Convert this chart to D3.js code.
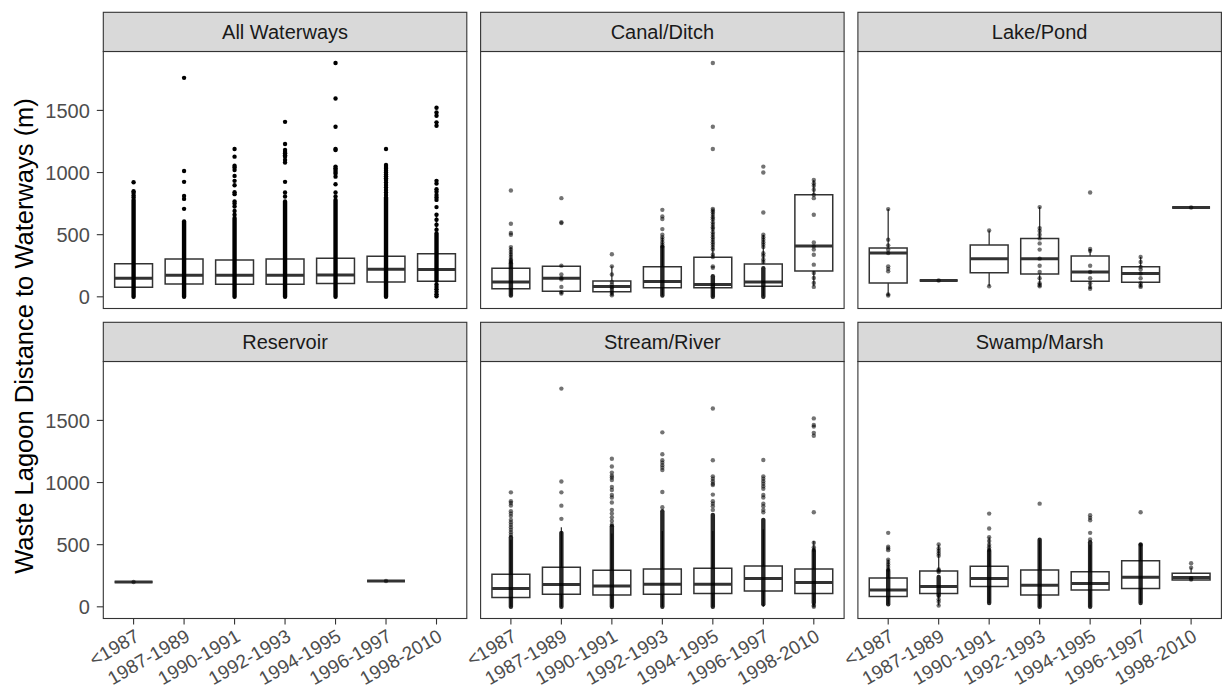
<!DOCTYPE html>
<html><head><meta charset="utf-8">
<script src="https://cdn.jsdelivr.net/npm/d3@7/dist/d3.min.js"></script>
<style>html,body{margin:0;padding:0;background:#fff;}svg{display:block;font-family:"Liberation Sans",Arial,sans-serif;}</style>
</head><body><svg id="c" width="1222" height="693"></svg>
<script>
// ---------------- data ----------------
const categories = ["<1987","1987-1989","1990-1991","1992-1993","1994-1995","1996-1997","1998-2010"];
const panelNames = ["All Waterways","Canal/Ditch","Lake/Pond","Reservoir","Stream/River","Swamp/Marsh"];
const yTicks = [0, 500, 1000, 1500];
const yTitle = "Waste Lagoon Distance to Waterways (m)";

// All Waterways
const allQ1  = [77, 104, 101, 101, 107, 120, 125];
const allMed = [149, 173, 173, 173, 176, 221, 219];
const allQ3  = [267, 305, 297, 305, 310, 326, 347];
const allLo  = [0, 0, 0, 0, 0, 0, 0];
const allHi  = [550, 605, 590, 610, 610, 630, 660];
const allDense = [[[0,780]],[[0,607]],[[0,634]],[[0,767]],[[0,780]],[[0,800]],[[130,510]]];
const allPts = [
  [922, 850, 835, 815, 800],
  [1762, 1013, 925, 812, 788, 708],
  [1190, 1128, 1055, 1040, 1021, 973, 933, 898, 842, 826, 767, 750, 727, 690, 660],
  [1408, 1230, 1182, 1165, 1155, 1140, 1128, 1101, 1080, 925, 839, 807],
  [1882, 1596, 1368, 1190, 1181, 1048, 1035, 1020, 1005, 990, 967, 906, 839, 807],
  [1190, 1061, 1045, 1030, 1015, 1000, 985, 970, 955, 941, 920, 900, 880, 860, 840, 820],
  [1521, 1484, 1457, 1404, 1377, 933, 911, 866, 845, 820, 800, 780, 722, 660, 620, 580, 540, 100, 80, 60, 40, 20, 5]
];

// Canal/Ditch
const canQ1  = [64, 45, 40, 72, 72, 85, 208];
const canMed = [120, 149, 83, 123, 99, 120, 409];
const canQ3  = [230, 246, 128, 241, 318, 264, 821];
const canLo  = [10, 26, 13, 10, 0, 5, 85];
const canHi  = [400, 251, 245, 480, 700, 500, 941];
const canDense = [[[10,270]],[],[],[[10,400]],[[0,165]],[[0,230]],[]];
const canPts = [
  [855, 588, 513, 500, 400, 380, 360, 340, 320, 300, 290, 280],
  [794, 600, 593, 251, 179, 152, 140, 80, 37, 26],
  [342, 245, 180, 120, 100, 80, 70, 55, 40, 25, 13],
  [700, 647, 626, 545, 500, 480, 460, 440, 420, 406],
  [1882, 1368, 1190, 708, 695, 680, 660, 640, 625, 600, 580, 560, 545, 520, 500, 480, 460, 440, 420, 400, 380, 340, 320, 245, 233],
  [1048, 1000, 679, 500, 480, 460, 440, 420, 400, 350, 330, 300, 280],
  [941, 914, 893, 861, 821, 794, 660, 438, 406, 380, 339, 259, 192, 152, 112, 80]
];

// Lake/Pond
const lakQ1  = [112, 131, 193, 184, 125, 117, 719];
const lakMed = [353, 131, 307, 307, 200, 187, 719];
const lakQ3  = [393, 131, 417, 470, 329, 241, 719];
const lakLo  = [10, 131, 85, 85, 64, 80, 719];
const lakHi  = [706, 131, 534, 722, 385, 321, 719];
const lakDense = [[],[],[],[],[],[],[]];
const lakPts = [
  [706, 460, 414, 380, 353, 245, 225, 205, 20, 10],
  [131],
  [534, 85],
  [722, 553, 530, 500, 470, 430, 380, 307, 250, 200, 150, 110, 95, 85],
  [839, 385, 370, 250, 200, 150, 110, 80, 64],
  [321, 280, 241, 220, 187, 150, 110, 90, 80],
  [719]
];

// Reservoir
const resQ1  = [200, null, null, null, null, 208, null];
const resMed = [200, null, null, null, null, 208, null];
const resQ3  = [200, null, null, null, null, 208, null];
const resLo  = [200, null, null, null, null, 208, null];
const resHi  = [200, null, null, null, null, 208, null];
const resDense = [[],[],[],[],[],[],[]];
const resPts = [[200],[],[],[],[],[208],[]];

// Stream/River
const strQ1  = [75, 102, 96, 102, 107, 128, 107];
const strMed = [147, 179, 168, 182, 182, 227, 195];
const strQ3  = [262, 318, 294, 305, 310, 328, 304];
const strLo  = [0, 0, 0, 0, 0, 0, 0];
const strHi  = [540, 640, 590, 610, 610, 625, 530];
const strDense = [[[0,560]],[[0,595]],[[0,649]],[[0,769]],[[0,740]],[[20,700]],[[30,450]]];
const strPts = [
  [921, 850, 835, 815, 770, 750, 730, 700, 680, 660, 640, 620, 600, 580],
  [1756, 1009, 921, 814, 708],
  [1191, 1129, 1080, 1055, 1040, 1020, 965, 940, 900, 880, 840, 780, 750, 720, 690, 660],
  [1404, 1228, 1180, 1160, 1140, 1120, 1100, 924, 801],
  [1596, 1179, 1050, 1030, 1010, 990, 980, 903, 850, 830, 810, 780],
  [1182, 1050, 1030, 1010, 990, 970, 950, 900, 880, 830, 810, 780, 760],
  [1516, 1463, 1450, 1400, 1377, 761, 515, 480, 460, 10, 0]
];

// Swamp/Marsh
const swaQ1  = [83, 107, 163, 96, 136, 147, 216];
const swaMed = [136, 163, 227, 174, 187, 238, 235];
const swaQ3  = [232, 288, 326, 296, 283, 371, 270];
const swaLo  = [20, 10, 30, 0, 0, 30, 216];
const swaHi  = [380, 500, 560, 540, 500, 502, 315];
const swaDense = [[[20,290]],[[90,240]],[[30,450]],[[0,540]],[[0,520]],[[30,500]],[]];
const swaPts = [
  [595, 483, 470, 456, 380, 360, 340, 320, 300],
  [502, 470, 450, 430, 410, 300, 290, 280, 60, 40, 10],
  [750, 630, 560, 530, 500, 480, 460],
  [830],
  [737, 716, 697, 595, 542],
  [761, 502],
  [350, 315, 230, 220]
];

// ---------------- layout ----------------
const panelData = [
  {q1:allQ1,med:allMed,q3:allQ3,lo:allLo,hi:allHi,dense:allDense,pts:allPts,alpha:1},
  {q1:canQ1,med:canMed,q3:canQ3,lo:canLo,hi:canHi,dense:canDense,pts:canPts,alpha:0.55},
  {q1:lakQ1,med:lakMed,q3:lakQ3,lo:lakLo,hi:lakHi,dense:lakDense,pts:lakPts,alpha:0.55},
  {q1:resQ1,med:resMed,q3:resQ3,lo:resLo,hi:resHi,dense:resDense,pts:resPts,alpha:0.55},
  {q1:strQ1,med:strMed,q3:strQ3,lo:strLo,hi:strHi,dense:strDense,pts:strPts,alpha:0.55},
  {q1:swaQ1,med:swaMed,q3:swaQ3,lo:swaLo,hi:swaHi,dense:swaDense,pts:swaPts,alpha:0.55}
];
const colLeft = [103.3, 480.6, 857.9];
const panelW = 363.5;
const stripTop = [12.3, 322.3];
const stripH = 39.2;
const panelH = 257;
const border = "#333333";

const svg = d3.select("#c");

panelNames.forEach((name, pi) => {
  const col = pi % 3, row = Math.floor(pi / 3);
  const x0 = colLeft[col], st = stripTop[row], pt = st + stripH, pb = pt + panelH;
  const x = d3.scalePoint().domain(categories).range([x0, x0 + panelW]).padding(0.6);
  const y = d3.scaleLinear().domain([-94, 1974]).range([pb, pt]);
  const bw = x.step() * 0.75;
  const d = panelData[pi];
  const g = svg.append("g");

  g.append("rect").attr("x", x0).attr("y", pt).attr("width", panelW).attr("height", panelH)
    .attr("fill", "#fff");

  categories.forEach((c, i) => {
    if (d.med[i] == null) return;
    const cx = x(c);
    g.append("line").attr("x1", cx).attr("x2", cx).attr("y1", y(d.q3[i])).attr("y2", y(d.hi[i]))
      .attr("stroke", border).attr("stroke-width", 1.3);
    g.append("line").attr("x1", cx).attr("x2", cx).attr("y1", y(d.q1[i])).attr("y2", y(d.lo[i]))
      .attr("stroke", border).attr("stroke-width", 1.3);
    const yT = y(d.q3[i]), yB = y(d.q1[i]);
    g.append("path").attr("d", `M${cx - bw/2},${yT}H${cx + bw/2}V${yB}H${cx - bw/2}Z`)
      .attr("fill", "#fff").attr("stroke", border).attr("stroke-width", 1.5);
    g.append("line").attr("x1", cx - bw/2).attr("x2", cx + bw/2)
      .attr("y1", y(d.med[i])).attr("y2", y(d.med[i]))
      .attr("stroke", border).attr("stroke-width", 3);
  });

  categories.forEach((c, i) => {
    const cx = x(c);
    d.dense[i].forEach(r => {
      g.append("line").attr("x1", cx).attr("x2", cx).attr("y1", y(r[0])).attr("y2", y(r[1]))
        .attr("stroke", "#000").attr("stroke-width", 4.4).attr("stroke-linecap", "round")
        .attr("stroke-opacity", d.alpha < 1 ? 0.85 : 1);
    });
    g.selectAll(null).data(d.pts[i]).enter().append("circle")
      .attr("cx", cx).attr("cy", v => y(v)).attr("r", 2.2)
      .attr("fill", "#000").attr("fill-opacity", d.alpha);
  });

  g.append("rect").attr("x", x0).attr("y", pt).attr("width", panelW).attr("height", panelH)
    .attr("fill", "none").attr("stroke", border).attr("stroke-width", 1.1);

  g.append("rect").attr("x", x0).attr("y", st).attr("width", panelW).attr("height", stripH)
    .attr("fill", "#d9d9d9").attr("stroke", border).attr("stroke-width", 1.1);
  g.append("text").attr("x", x0 + panelW / 2).attr("y", st + stripH / 2).attr("dy", "0.36em")
    .attr("text-anchor", "middle").attr("font-size", 20).attr("fill", "#1a1a1a").text(name);

  if (col === 0) {
    yTicks.forEach(t => {
      g.append("line").attr("x1", x0 - 6.5).attr("x2", x0).attr("y1", y(t)).attr("y2", y(t))
        .attr("stroke", border).attr("stroke-width", 1.1);
      g.append("text").attr("x", x0 - 13.5).attr("y", y(t)).attr("dy", "0.36em")
        .attr("text-anchor", "end").attr("font-size", 20).attr("fill", "#4d4d4d").text(t);
    });
  }
  if (row === 1) {
    categories.forEach(c => {
      g.append("line").attr("x1", x(c)).attr("x2", x(c)).attr("y1", pb).attr("y2", pb + 6)
        .attr("stroke", border).attr("stroke-width", 1.1);
      g.append("text").attr("transform", `translate(${x(c) + 7},${pb + 21.5}) rotate(-30)`)
        .attr("text-anchor", "end").attr("font-size", 19).attr("fill", "#4d4d4d").text(c);
    });
  }
});

svg.append("text").attr("transform", "translate(33,336) rotate(-90)")
  .attr("text-anchor", "middle").attr("font-size", 25.5).attr("fill", "#000").text(yTitle);
</script></body></html>
